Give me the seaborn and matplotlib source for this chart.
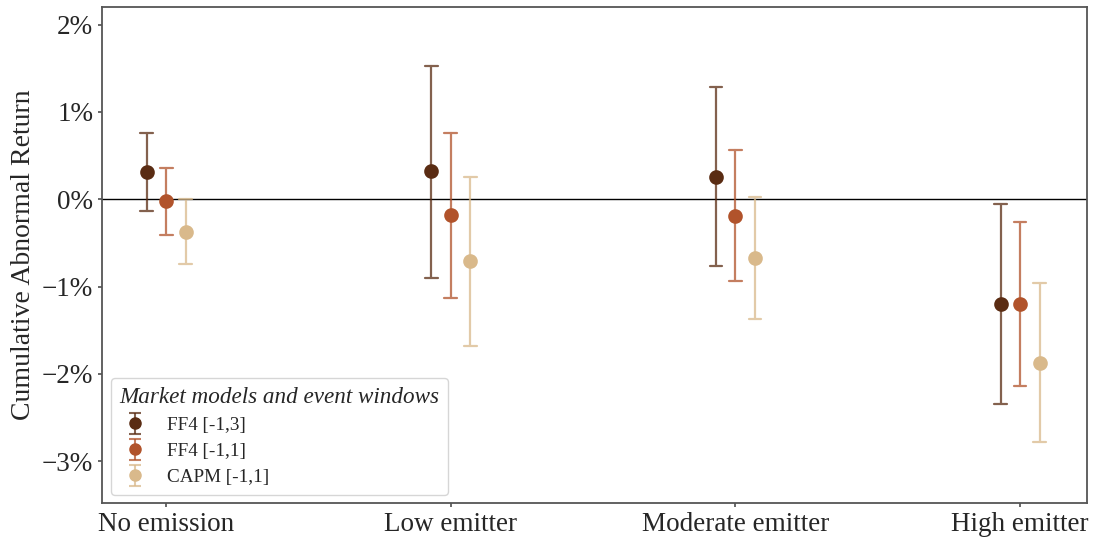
import numpy as np
import pandas as pd
import matplotlib
matplotlib.use("Agg")
import matplotlib.pyplot as plt
import matplotlib.ticker as mticker
from matplotlib.colors import to_rgba
from matplotlib.container import ErrorbarContainer
from matplotlib.legend_handler import HandlerErrorbar
import seaborn as sns

categories = ["No emission", "Low emitter", "Moderate emitter", "High emitter"]
models = ["FF4 [-1,3]", "FF4 [-1,1]", "CAPM [-1,1]"]

# point estimates (%) per model, ordered as categories
car_ff4_13 = [0.31, 0.32, 0.26, -1.20]
car_ff4_11 = [-0.02, -0.18, -0.19, -1.20]
car_capm_11 = [-0.37, -0.71, -0.67, -1.87]

# lower / upper confidence bounds (%)
lo_ff4_13 = [-0.14, -0.90, -0.76, -2.35]
hi_ff4_13 = [0.76, 1.52, 1.29, -0.06]
lo_ff4_11 = [-0.41, -1.13, -0.94, -2.14]
hi_ff4_11 = [0.36, 0.76, 0.56, -0.26]
lo_capm_11 = [-0.74, -1.68, -1.37, -2.78]
hi_capm_11 = [0.00, 0.26, 0.02, -0.96]

palette = ["#5a2c13", "#b1532b", "#d9b98b"]

est = [car_ff4_13, car_ff4_11, car_capm_11]
lows = [lo_ff4_13, lo_ff4_11, lo_capm_11]
highs = [hi_ff4_13, hi_ff4_11, hi_capm_11]

# Long table: (lower, estimate, upper) per cell; the median gives the estimate
# and the full percentile interval spans the confidence bounds.
rows = []
for m, e, lo, hi in zip(models, est, lows, highs):
    for c, v, l, h in zip(categories, e, lo, hi):
        for val in (l, v, h):
            rows.append({"category": c, "model": m, "car": val})
df = pd.DataFrame(rows)

sns.set_theme(style="white")
plt.rcParams["font.family"] = ["Liberation Serif", "DejaVu Serif"]

fig, ax = plt.subplots(figsize=(10.99, 5.44), dpi=100)
fig.subplots_adjust(left=0.093, right=0.989, top=0.987, bottom=0.075)

ax.axhline(0, color="black", lw=1.0, zorder=0)

sns.pointplot(
    data=df, x="category", y="car", hue="model",
    order=categories, hue_order=models, palette=palette,
    estimator="median", errorbar=("pi", 100),
    dodge=0.137, linestyle="none", markers="o", markersize=8.5,
    capsize=0.045, err_kws={"linewidth": 1.6, "alpha": 0.75},
    legend=False, ax=ax,
)

ax.set_xlim(-0.225, 3.235)
ax.set_ylim(-3.48, 2.2)
ax.yaxis.set_major_locator(mticker.MultipleLocator(1))
ax.yaxis.set_major_formatter(
    mticker.FuncFormatter(lambda v, p: f"{v:.0f}%".replace("-", "\u2212"))
)
ax.set_xlabel("")
ax.set_ylabel("Cumulative Abnormal Return", fontsize=20)
ax.tick_params(axis="x", labelsize=19.5, length=3, color="#555555", bottom=True)
ax.tick_params(axis="y", labelsize=19.5, length=3, left=True, color="#555555")
for s in ax.spines.values():
    s.set_color("#555555")
    s.set_linewidth(1.3)

# legend entries drawn as point + error bar with caps (off-canvas proxies)
handles = []
for m, col in zip(models, palette):
    h = ax.errorbar([np.nan], [np.nan], yerr=[[np.nan], [np.nan]], fmt="o",
                    color=col, markersize=8, ecolor=to_rgba(col, 0.75),
                    elinewidth=1.5, capsize=4, capthick=1.5, label=m)
    handles.append(h)

leg = ax.legend(
    handles=handles, labels=models,
    title="Market models and event windows", loc="lower left",
    fontsize=13.8, title_fontproperties={"style": "italic", "size": 16.7},
    frameon=True, borderpad=0.45, handletextpad=0.9, labelspacing=0.45,
    handlelength=1.6, alignment="left", bbox_to_anchor=(0.0, 0.0),
    borderaxespad=0.45,
    handler_map={ErrorbarContainer: HandlerErrorbar(xerr_size=0.5, yerr_size=0.55)},
)
leg.get_frame().set_edgecolor("#cccccc")

fig.savefig("out.png", dpi=100)
